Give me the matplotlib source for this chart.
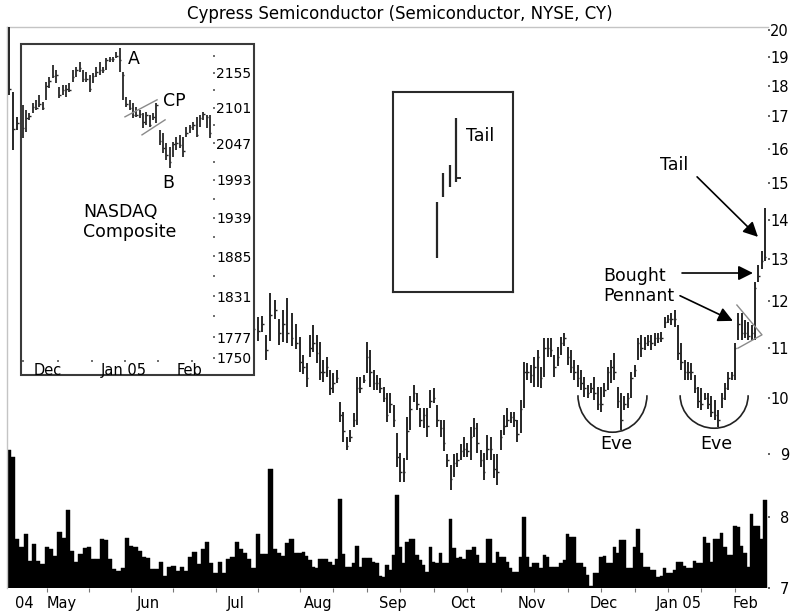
import numpy as np
import matplotlib
matplotlib.use("Agg")
import matplotlib.pyplot as plt
from matplotlib.patches import Arc
from matplotlib.transforms import ScaledTranslation
from matplotlib.ticker import FixedLocator, NullLocator, FixedFormatter, NullFormatter

plt.rcParams['font.family'] = ['DejaVu Sans']

# ---------------- data: Cypress Semiconductor daily bars ----------------
days = np.arange(1, 210)
high = [20.1, 17.8, 16.97, 17.3, 16.6, 16.3, 15.9, 16.1, 15.9, 15.5,
        15.1, 15.0, 14.9, 14.4, 14.1, 13.9, 14.3, 14.4, 14.1, 13.7,
        13.6, 14.0, 14.5, 14.4, 14.2, 14.0, 14.5, 14.8, 14.7, 14.3,
        13.9, 13.8, 13.7, 13.2, 13.1, 13.4, 13.4, 13.1, 13.0, 13.3,
        13.6, 13.6, 13.2, 12.8, 12.9, 13.2, 13.2, 13.0, 12.6, 12.6,
        13.0, 13.0, 12.7, 12.4, 12.4, 12.4, 12.2, 11.9, 11.7, 11.65,
        11.67, 11.26, 12.19, 12.03, 11.62, 11.81, 12.08, 11.75, 11.50, 11.22,
        10.85, 10.69, 11.26, 11.48, 11.26, 11.12, 10.75, 10.81, 10.55, 10.49,
        10.55, 9.93, 9.74, 9.30, 9.42, 9.72, 10.41, 10.41, 10.45, 11.12,
        10.95, 10.55, 10.45, 10.39, 10.22, 10.10, 10.10, 9.87, 9.37, 9.03,
        8.94, 9.65, 10.04, 10.26, 10.10, 9.83, 9.83, 9.83, 10.16, 10.20,
        9.87, 9.60, 9.60, 9.00, 8.83, 9.00, 9.03, 9.17, 9.30, 9.20,
        9.47, 9.63, 9.54, 9.08, 9.03, 9.34, 9.30, 9.00, 9.00, 9.42,
        9.69, 9.83, 9.74, 9.74, 9.60, 9.97, 10.71, 10.69, 10.65, 10.81,
        10.95, 10.61, 11.20, 11.20, 11.20, 10.85, 11.01, 11.22, 11.31, 11.01,
        10.95, 10.75, 10.65, 10.55, 10.41, 10.26, 10.30, 10.41, 10.22, 10.22,
        10.30, 10.61, 10.75, 10.89, 10.22, 10.10, 10.04, 10.10, 10.51, 10.65,
        11.20, 11.26, 11.22, 11.26, 11.26, 11.31, 11.31, 11.33, 11.65, 11.70,
        11.74, 11.81, 11.48, 11.10, 10.75, 10.71, 10.69, 10.45, 10.22, 10.20,
        10.10, 10.10, 10.04, 9.97, 9.78, 10.10, 10.30, 10.51, 10.51, 11.10,
        11.74, 11.74, 11.59, 11.55, 11.48, 12.44, 12.85, 13.2, 14.31]
low = [17.7, 15.96, 16.57, 15.6, 15.8, 15.5, 15.2, 15.4, 15.2, 14.8,
       14.4, 14.5, 14.1, 13.7, 13.3, 13.4, 13.7, 13.8, 13.5, 13.0,
       13.1, 13.4, 13.8, 13.9, 13.6, 13.6, 13.9, 14.2, 14.0, 13.6,
       13.2, 13.3, 13.0, 12.6, 12.7, 12.9, 12.9, 12.5, 12.5, 12.8,
       13.1, 13.0, 12.6, 12.2, 12.3, 12.7, 12.8, 12.4, 12.0, 12.1,
       12.4, 12.5, 12.1, 11.9, 11.9, 12.0, 11.7, 11.4, 11.2, 11.13,
       11.34, 10.75, 11.13, 11.62, 11.05, 11.12, 11.10, 11.03, 10.98, 10.50,
       10.46, 10.22, 10.81, 10.91, 10.69, 10.35, 10.31, 10.41, 10.06, 10.10,
       10.29, 9.56, 9.21, 9.08, 9.21, 9.47, 9.51, 10.10, 10.29, 10.49,
       10.22, 10.16, 10.16, 10.10, 9.93, 9.56, 9.72, 9.47, 8.79, 8.55,
       8.55, 8.91, 9.42, 9.93, 9.78, 9.47, 9.45, 9.30, 9.83, 9.91,
       9.47, 9.30, 9.05, 8.79, 8.42, 8.63, 8.79, 8.91, 8.96, 8.96,
       8.91, 9.30, 9.03, 8.79, 8.58, 8.91, 8.91, 8.61, 8.50, 9.08,
       9.33, 9.47, 9.55, 9.47, 9.21, 9.37, 9.83, 10.35, 10.29, 10.22,
       10.22, 10.20, 10.41, 10.81, 10.81, 10.41, 10.63, 10.85, 11.03, 10.65,
       10.49, 10.35, 10.22, 10.16, 10.02, 10.00, 10.10, 9.97, 9.78, 9.74,
       10.02, 10.16, 10.29, 10.35, 9.83, 9.42, 9.78, 9.83, 10.00, 10.41,
       10.75, 10.81, 10.95, 11.03, 10.95, 11.03, 11.10, 11.12, 11.41, 11.52,
       11.48, 11.43, 10.75, 10.55, 10.35, 10.35, 10.35, 10.10, 9.83, 9.78,
       9.97, 9.81, 9.66, 9.60, 9.47, 9.83, 9.97, 10.16, 10.35, 10.35,
       11.16, 11.16, 11.20, 11.16, 11.16, 11.16, 12.45, 12.75, 12.95]
close = [17.9, 16.6, 16.8, 16.0, 16.2, 15.8, 15.5, 15.9, 15.4, 15.0,
         14.6, 14.9, 14.3, 14.0, 13.5, 13.8, 14.2, 14.0, 13.6, 13.2,
         13.5, 13.9, 14.3, 14.1, 13.7, 13.9, 14.4, 14.6, 14.2, 13.8,
         13.4, 13.6, 13.1, 12.8, 13.0, 13.3, 13.0, 12.6, 12.9, 13.2,
         13.5, 13.1, 12.7, 12.4, 12.8, 13.1, 12.9, 12.5, 12.2, 12.5,
         12.9, 12.6, 12.3, 12.0, 12.3, 12.1, 11.8, 11.5, 11.4, 11.35,
         11.5, 10.95, 11.7, 11.8, 11.3, 11.5, 11.3, 11.2, 11.1, 10.7,
         10.6, 10.4, 11.0, 11.1, 10.9, 10.5, 10.5, 10.6, 10.2, 10.3,
         10.4, 9.7, 9.4, 9.15, 9.3, 9.6, 10.2, 10.2, 10.35, 10.8,
         10.5, 10.3, 10.3, 10.2, 10.0, 9.7, 9.9, 9.6, 8.95, 8.7,
         8.7, 9.4, 9.8, 10.1, 9.9, 9.6, 9.7, 9.5, 9.95, 10.0,
         9.6, 9.45, 9.2, 8.9, 8.6, 8.85, 8.9, 9.05, 9.1, 9.05,
         9.3, 9.45, 9.2, 8.9, 8.7, 9.1, 9.1, 8.75, 8.7, 9.3,
         9.5, 9.6, 9.65, 9.6, 9.35, 9.8, 10.5, 10.5, 10.45, 10.6,
         10.8, 10.4, 11.0, 11.0, 10.95, 10.6, 10.8, 11.1, 11.2, 10.8,
         10.6, 10.5, 10.4, 10.3, 10.2, 10.1, 10.2, 10.1, 9.9, 9.9,
         10.15, 10.5, 10.6, 10.5, 9.95, 9.6, 9.9, 10.0, 10.4, 10.55,
         11.1, 11.0, 11.1, 11.15, 11.1, 11.2, 11.2, 11.2, 11.55, 11.6,
         11.6, 11.6, 10.9, 10.7, 10.5, 10.5, 10.5, 10.2, 9.95, 9.9,
         10.0, 9.9, 9.75, 9.7, 9.6, 10.0, 10.2, 10.4, 10.45, 11.0,
         11.5, 11.3, 11.3, 11.25, 11.3, 12.3, 12.6, 12.95, 13.05]
volume = [13.8, 13.1, 4.9, 4.1, 5.4, 2.7, 4.4, 2.7, 2.4, 4.1,
          3.9, 3.2, 5.6, 5.0, 7.8, 3.7, 2.6, 3.4, 4.0, 4.1,
          2.9, 2.9, 4.9, 4.8, 2.9, 1.9, 1.7, 2.0, 5.0, 4.2,
          4.1, 3.7, 3.1, 3.0, 1.9, 1.9, 2.6, 1.2, 2.1, 2.2,
          1.7, 2.1, 1.7, 3.1, 3.6, 2.4, 3.9, 4.6, 2.5, 1.5,
          2.6, 1.5, 2.9, 3.1, 4.6, 3.9, 3.5, 2.9, 2.0, 5.4,
          3.4, 3.4, 11.9, 3.9, 3.5, 3.2, 4.5, 4.9, 3.5, 3.5,
          3.6, 3.2, 2.8, 2.1, 2.0, 2.9, 2.9, 2.9, 2.6, 2.3,
          2.9, 8.9, 3.4, 2.1, 2.1, 2.5, 4.2, 2.1, 3.0, 3.0,
          3.0, 2.6, 2.5, 1.2, 1.1, 2.3, 1.8, 3.3, 9.3, 4.1,
          2.5, 4.6, 4.9, 4.9, 3.3, 2.8, 2.3, 1.6, 4.1, 2.6,
          2.5, 3.5, 2.5, 2.5, 6.9, 4.0, 3.0, 3.1, 2.9, 3.8,
          3.8, 4.1, 3.3, 2.5, 2.5, 4.9, 4.9, 2.5, 3.6, 3.1,
          3.1, 2.6, 2.0, 1.6, 1.6, 3.1, 7.1, 3.1, 2.1, 2.5,
          2.5, 2.0, 3.3, 3.1, 2.1, 2.1, 2.1, 2.5, 2.8, 5.4,
          5.1, 5.1, 2.5, 2.5, 2.1, 1.3, 0.2, 1.5, 1.5, 3.1,
          3.2, 2.5, 2.5, 4.1, 3.5, 4.8, 4.8, 2.0, 2.0, 4.1,
          5.9, 3.5, 2.1, 2.1, 1.8, 1.8, 1.1, 1.2, 2.0, 1.5,
          1.5, 1.8, 2.6, 2.6, 2.2, 2.0, 2.0, 2.7, 2.5, 2.5,
          5.1, 4.5, 2.6, 4.9, 4.9, 5.5, 4.1, 3.3, 3.3, 6.2,
          6.1, 4.2, 3.5, 2.1, 7.4, 6.2, 6.2, 4.9, 8.8]

price_ticks = [7, 8, 9, 10, 11, 12, 13, 14, 15, 16, 17, 18, 19, 20]
month_labels = ['04', 'May', 'Jun', 'Jul', 'Aug', 'Sep', 'Oct', 'Nov', 'Dec', 'Jan 05', 'Feb']
month_pos = [4.6, 13.6, 34.0, 54.8, 75.4, 97.8, 118.7, 139.4, 160.9, 183.3, 203.3]
tick_days = list(range(10, 210, 10))

# ---------------- data: NASDAQ Composite inset ----------------
nq_days = np.arange(153, 210)
nq_high = [2105.4, 2097.7, 2093.1, 2108.5, 2113.1, 2120.8, 2110.0, 2141.0, 2148.8, 2167.7,
           2159.8, 2133.3, 2136.4, 2136.4, 2139.5, 2159.8, 2164.5, 2172.4, 2159.8, 2156.7,
           2152.0, 2155.1, 2164.5, 2172.4, 2164.5, 2178.7, 2180.3, 2180.3, 2188.3, 2194.7,
           2156.7, 2117.7, 2113.1, 2108.5, 2102.3, 2097.7, 2093.1, 2094.7, 2090.1, 2093.1,
           2108.5, 2067.3, 2062.7, 2047.7, 2041.7, 2049.2, 2056.7, 2059.7, 2056.7, 2071.8,
           2074.8, 2079.4, 2087.0, 2090.1, 2094.7, 2090.1, 2090.1]
nq_low = [2055.2, 2064.3, 2082.4, 2093.1, 2097.7, 2102.3, 2097.7, 2113.1, 2131.7, 2147.3,
          2139.5, 2116.2, 2120.8, 2117.7, 2125.5, 2141.0, 2148.8, 2156.7, 2141.0, 2141.0,
          2125.5, 2139.5, 2148.8, 2152.0, 2155.1, 2159.8, 2172.4, 2172.4, 2178.7, 2156.7,
          2113.1, 2102.3, 2097.7, 2085.5, 2087.0, 2085.5, 2070.3, 2074.8, 2071.8, 2082.4,
          2077.9, 2044.7, 2032.8, 2022.5, 2010.7, 2026.9, 2037.3, 2040.2, 2026.9, 2056.7,
          2062.7, 2067.3, 2056.7, 2071.8, 2082.4, 2070.3, 2055.2]
nq_close = [2070, 2085, 2088, 2102, 2101, 2106, 2100, 2135, 2143, 2150,
            2152, 2120, 2128, 2130, 2128, 2148, 2159, 2162, 2146, 2146,
            2130, 2150, 2157, 2160, 2160, 2175, 2177, 2177, 2182, 2175,
            2152, 2107, 2100, 2090, 2090, 2092, 2079, 2090, 2075, 2087,
            2105, 2050, 2040, 2030, 2019, 2046, 2047, 2045, 2035, 2062,
            2071, 2075, 2060, 2085, 2092, 2087, 2062]
nq_ticks = [1750, 1777, 1831, 1885, 1939, 1993, 2047, 2101, 2155]
nq_minor = [1804, 1858, 1912, 1966, 2020, 2074, 2128, 2182]
nq_month_labels = ['Dec', 'Jan 05', 'Feb']
nq_month_pos = [160.6, 183.3, 203.0]
nq_tick_days = [153.0, 163.5, 173.6, 183.6, 193.5, 203.7]

# ---------------- data: "Tail" sketch ----------------
tail_x = [1, 2, 3, 4]
tail_hi = [45, 59.5, 63.5, 87]
tail_lo = [17, 47.5, 52.5, 55]
tail_close = 57

# ---------------- piecewise time scale ----------------
BREAK, SL, SR = 70.0, 4.22, 3.345
def fwd(d):
    d = np.asarray(d, dtype=float)
    return np.where(d >= BREAK, d * SR, BREAK * SR - (BREAK - d) * SL)
def inv(u):
    u = np.asarray(u, dtype=float)
    return np.where(u >= BREAK * SR, u / SR, BREAK - (BREAK * SR - u) / SL)

W, H = 791, 614
fig = plt.figure(figsize=(W / 100, H / 100), dpi=100)
def rect(x0, y0, x1, y1):
    return [x0 / W, 1 - y1 / H, (x1 - x0) / W, (y1 - y0) / H]

BAR = '#262626'
FS_TICK = 10.5
FS_NOTE = 12.5

# volume (main axes)
axv = fig.add_axes(rect(7, 27, 768, 588))
axv.set_xscale('function', functions=(fwd, inv))
axv.set_xlim(0.57, 209.9)
axv.bar(days, volume, width=1.0, color='black', edgecolor='black', linewidth=0.3)
axv.set_ylim(0, 56.1)
axv.set_yticks([])
for s in ['right', 'bottom']:
    axv.spines[s].set_visible(False)
for s in ['top', 'left']:
    axv.spines[s].set_color('#c4c4c4')
    axv.spines[s].set_linewidth(1.0)
axv.xaxis.set_major_locator(FixedLocator(month_pos))
axv.xaxis.set_major_formatter(FixedFormatter(month_labels))
axv.xaxis.set_minor_locator(FixedLocator(tick_days))
axv.tick_params(axis='x', which='major', length=0, pad=6, labelsize=FS_TICK)
axv.tick_params(axis='x', which='minor', length=3, width=0.8, color='#777777', direction='out')

# price bars
axp = axv.twinx()
axp.set_yscale('log')
axp.set_ylim(7, 20.11)
axp.vlines(days, low, high, color=BAR, lw=1.4)
axp.hlines(close, days, np.asarray(days) + 0.45, color=BAR, lw=1.0)
for s in axp.spines.values():
    s.set_visible(False)
axp.yaxis.set_major_locator(FixedLocator(price_ticks))
axp.yaxis.set_major_formatter(FixedFormatter([str(v) for v in price_ticks]))
axp.yaxis.set_minor_locator(NullLocator())
axp.yaxis.set_minor_formatter(NullFormatter())
axp.tick_params(axis='y', which='major', direction='out', length=1.6, width=1.3,
                color='#555555', pad=13.5, labelsize=FS_TICK)

# annotations on main chart
axp.text(181.8, 15.52, 'Tail', ha='center', va='center', fontsize=FS_NOTE)
arrow = dict(arrowstyle='-|>', color='black', lw=1.2, mutation_scale=22, shrinkA=0, shrinkB=0)
axp.annotate('', xy=(206.9, 13.55), xytext=(188.7, 15.17), arrowprops=arrow)
axp.text(160.6, 12.36, 'Bought\nPennant', ha='left', va='center', fontsize=FS_NOTE, linespacing=1.15)
axp.annotate('', xy=(205.4, 12.66), xytext=(184.2, 12.66), arrowprops=arrow)
axp.annotate('', xy=(199.4, 11.57), xytext=(183.6, 12.13), arrowprops=arrow)
axp.plot([200.6, 208.1, 200.9], [11.92, 11.27, 10.99], color='#8a8a8a', lw=1.0)

for cx, cy, w, h, tx in [(163.4, 10.06, 0.69, 0.74, 164.5), (193.8, 10.06, 0.68, 0.66, 194.4)]:
    tr = fig.dpi_scale_trans + ScaledTranslation(cx, cy, axp.transData)
    axp.add_patch(Arc((0, 0), w, h, theta1=180, theta2=360, transform=tr,
                      color='#222222', lw=1.2))
    axp.text(tx, 9.18, 'Eve', ha='center', va='center', fontsize=FS_NOTE)

# ---------------- NASDAQ inset ----------------
axn = fig.add_axes(rect(21, 44, 254, 375), zorder=5)
axn.set_facecolor('white')
axn.patch.set_edgecolor('#3a3a3a')
axn.patch.set_linewidth(1.5)
axn.set_yscale('log')
axn.set_xlim(152.5, 222.2)
axn.set_ylim(1728.4, 2201)
axn.vlines(nq_days, nq_low, nq_high, color=BAR, lw=1.3)
axn.hlines(nq_close, nq_days, nq_days + 0.45, color=BAR, lw=1.0)
for s in axn.spines.values():
    s.set_visible(False)
axn.yaxis.tick_right()
axn.spines['right'].set_position(('axes', (213 - 21) / 233))
axn.spines['bottom'].set_position(('axes', (375 - 360) / 331))
axn.yaxis.set_major_locator(FixedLocator(nq_ticks))
axn.yaxis.set_major_formatter(FixedFormatter([str(v) for v in nq_ticks]))
axn.yaxis.set_minor_locator(FixedLocator(nq_minor))
axn.yaxis.set_minor_formatter(NullFormatter())
axn.tick_params(axis='y', which='both', direction='out', length=1.4, width=1.2,
                color='#555555', pad=1.0, labelsize=10)
axn.xaxis.set_major_locator(FixedLocator(nq_month_pos))
axn.xaxis.set_major_formatter(FixedFormatter(nq_month_labels))
axn.xaxis.set_minor_locator(FixedLocator(nq_tick_days))
axn.tick_params(axis='x', which='major', length=0, pad=2.5, labelsize=10.5)
axn.tick_params(axis='x', which='minor', direction='out', length=1.4, width=1.2, color='#555555')
axn.plot([183.6, 193.2], [2087.0, 2113.1], color='#8a8a8a', lw=1.0)
axn.plot([188.7, 195.6], [2059.7, 2082.4], color='#8a8a8a', lw=1.0)
axn.text(186.3, 2177, 'A', ha='center', va='center', fontsize=FS_NOTE)
axn.text(198.3, 2111, 'CP', ha='center', va='center', fontsize=FS_NOTE)
axn.text(196.5, 1988.7, 'B', ha='center', va='center', fontsize=FS_NOTE)
axn.text(171.0, 1932.8, 'NASDAQ\nComposite', ha='left', va='center', fontsize=FS_NOTE, linespacing=1.1)

# ---------------- Tail sketch ----------------
axt = fig.add_axes(rect(393, 92, 513, 292), zorder=5)
axt.set_facecolor('white')
axt.set_xlim(-5.95, 13.0)
axt.set_ylim(0, 100)
axt.vlines(tail_x, tail_lo, tail_hi, color=BAR, lw=1.6)
axt.hlines(tail_close, tail_x[-1], tail_x[-1] + 0.8, color=BAR, lw=1.4)
axt.text(5.6, 78, 'Tail', ha='left', va='center', fontsize=FS_NOTE)
axt.set_xticks([])
axt.set_yticks([])
for s in axt.spines.values():
    s.set_color('#2a2a2a')
    s.set_linewidth(1.5)

fig.text(400 / W, 1 - 14 / H, 'Cypress Semiconductor (Semiconductor, NYSE, CY)',
         ha='center', va='center', fontsize=12)

for t in axp.get_yticklabels():
    t.set_horizontalalignment('right')

fig.savefig('out.png', dpi=100, facecolor='white')
